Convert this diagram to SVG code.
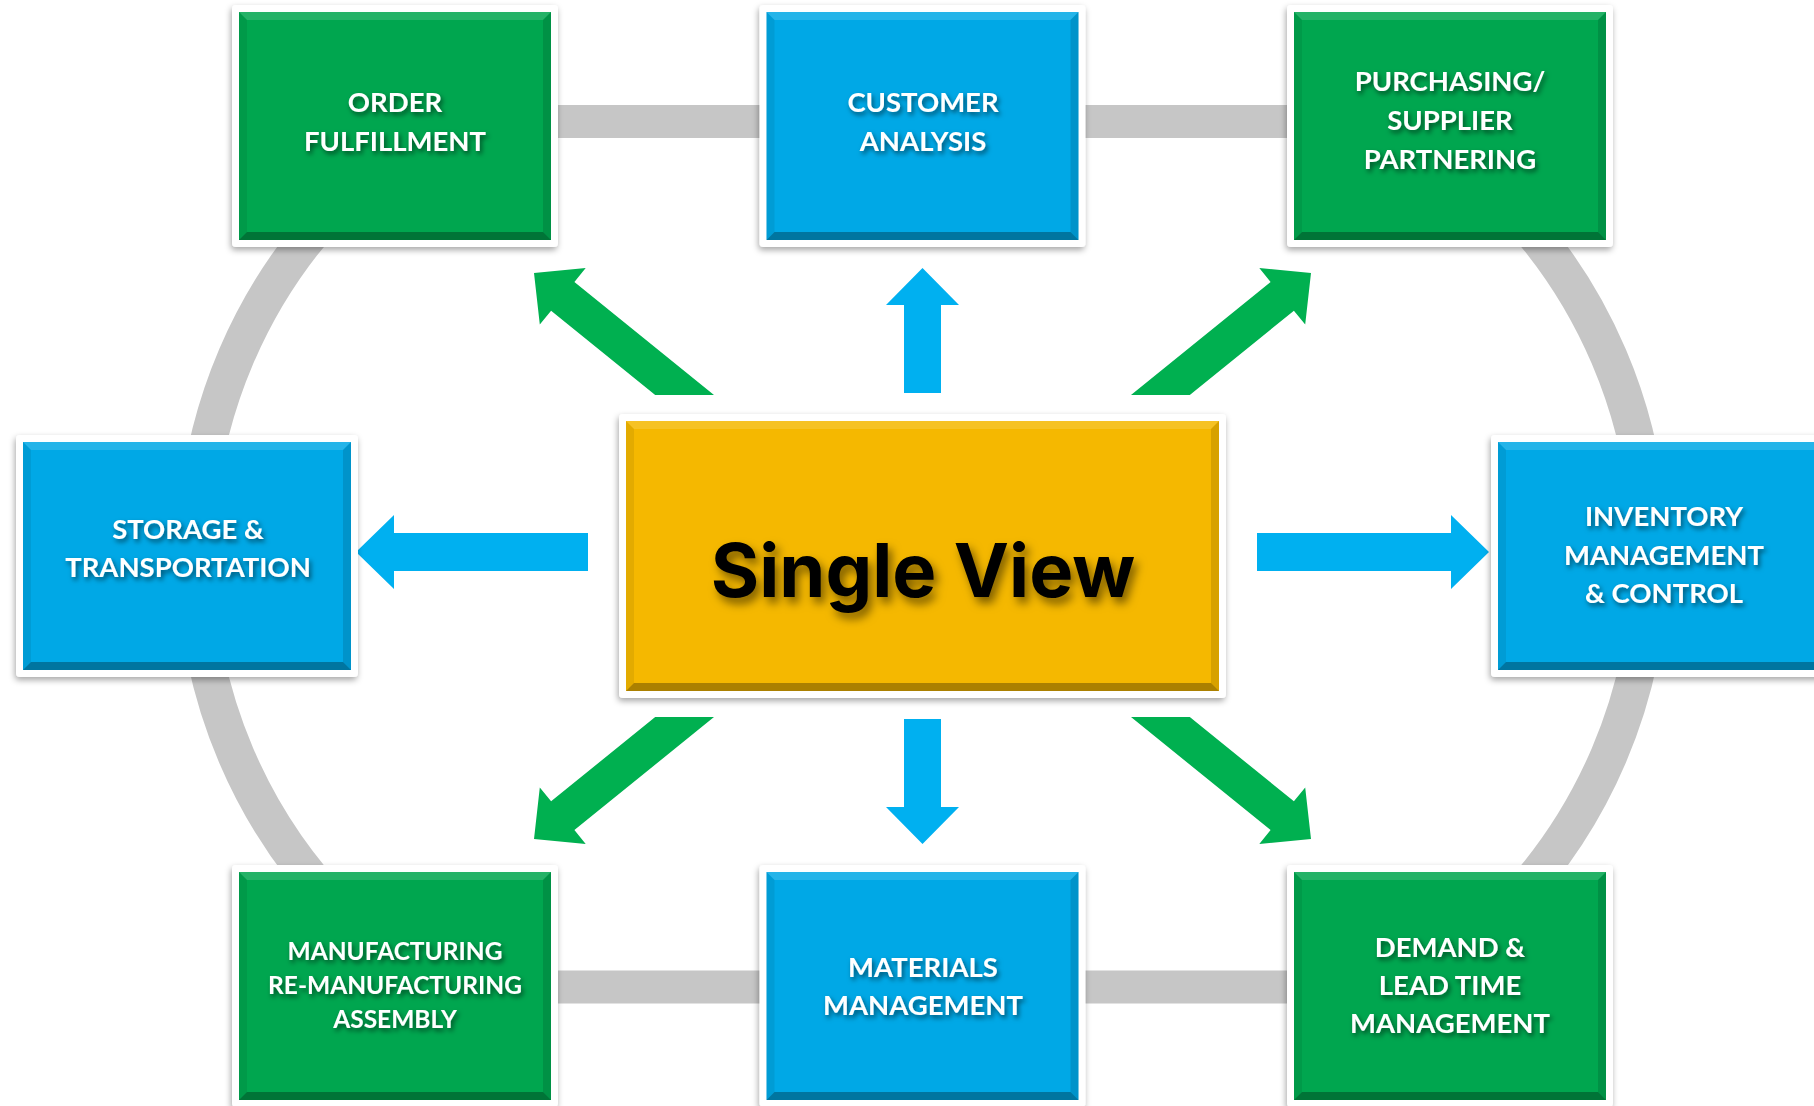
<svg xmlns="http://www.w3.org/2000/svg" xmlns:xlink="http://www.w3.org/1999/xlink" width="1814" height="1106" viewBox="0 0 1814 1106">
<defs>
<style>
.frame{fill:#fff;filter:url(#sh);}
.g{fill:#00A64F}
.b{fill:#00A8E6}
.y{fill:#F5B800}
.bt{fill:#fff;fill-opacity:.14}
.bb{fill:#000;fill-opacity:.3}
.bl{fill:#000;fill-opacity:.07}
.br{fill:#000;fill-opacity:.12}
.lbl{font-family:Lato,"Liberation Sans",sans-serif;font-weight:700;font-size:27.5px;fill:#fff;text-anchor:middle;filter:url(#tsh);}
.sm{font-size:24.5px}
.ring{fill:none;stroke:#C6C6C6}
.ga{fill:#00B050}
.ba{fill:#00B0F0}
.title{font-family:Inter,"Liberation Sans",sans-serif;font-weight:700;font-size:74px;fill:#000;text-anchor:middle;filter:url(#tsh2);}
</style>
<filter id="sh" x="-10%" y="-10%" width="120%" height="125%">
<feDropShadow dx="-1" dy="3" stdDeviation="3" flood-color="#000" flood-opacity="0.35"/>
</filter>
<filter id="tsh" x="-20%" y="-40%" width="140%" height="200%">
<feDropShadow dx="2" dy="3" stdDeviation="2.5" flood-color="#000" flood-opacity="0.55"/>
</filter>
<filter id="tsh2" x="-10%" y="-30%" width="120%" height="170%">
<feDropShadow dx="4" dy="6" stdDeviation="5" flood-color="#000" flood-opacity="0.5"/>
</filter>
<g id="bevS">
<polygon class="bt" points="7,7 319,7 311,15 15,15"/>
<polygon class="bb" points="7,235 319,235 311,227 15,227"/>
<polygon class="bl" points="7,7 15,15 15,227 7,235"/>
<polygon class="br" points="319,7 311,15 311,227 319,235"/>
</g>
<g id="bevM">
<polygon class="bt" points="7,7 335,7 327,15 15,15"/>
<polygon class="bb" points="7,235 335,235 327,227 15,227"/>
<polygon class="bl" points="7,7 15,15 15,227 7,235"/>
<polygon class="br" points="335,7 327,15 327,227 335,235"/>
</g>
<g id="bevC">
<polygon class="bt" points="7,7 600,7 592,15 15,15"/>
<polygon class="bb" points="7,277 600,277 592,269 15,269"/>
<polygon class="bl" points="7,7 15,15 15,269 7,277"/>
<polygon class="br" points="600,7 592,15 592,269 600,277"/>
</g>
</defs>
<rect width="1814" height="1106" fill="#fff"/>
<g id="connectors">
<line class="ring" x1="400" y1="121.5" x2="1445" y2="121.5" stroke-width="33"/>
<line class="ring" x1="400" y1="987" x2="1445" y2="987" stroke-width="33"/>
<path class="ring" d="M341,200 A508,508 0 0 0 341,912" stroke-width="37"/>
<path class="ring" d="M1504,200 A508,508 0 0 1 1504,912" stroke-width="37"/>
<polygon class="ga" points="534,273 585.7,267.9 574.4,281.9 714,395 655.2,395 551.1,310.7 539.8,324.6"/>
<polygon class="ga" points="1311,273 1259.3,267.9 1270.6,281.9 1131,395 1189.8,395 1293.9,310.7 1305.2,324.6"/>
<polygon class="ga" points="534,839 585.7,844.1 574.4,830.1 714,717 655.2,717 551.1,801.3 539.8,787.4"/>
<polygon class="ga" points="1311,839 1259.3,844.1 1270.6,830.1 1131,717 1189.8,717 1293.9,801.3 1305.2,787.4"/>
<polygon class="ba" points="922.5,268 959,305 941,305 941,393 904,393 904,305 886,305"/>
<polygon class="ba" points="922.5,844 959,807 941,807 941,719 904,719 904,807 886,807"/>
<polygon class="ba" points="356,552 394,515 394,533 588,533 588,571 394,571 394,589"/>
<polygon class="ba" points="1489,552 1451,515 1451,533 1257,533 1257,571 1451,571 1451,589"/>
</g>
<g id="order-fulfillment">
<rect class="frame" x="232" y="5" width="326" height="242" rx="4"/>
<rect class="g" x="239" y="12" width="312" height="228"/>
<use xlink:href="#bevS" x="232" y="5"/>
<text class="lbl" x="395" y="112">ORDER</text>
<text class="lbl" x="395" y="151">FULFILLMENT</text>
</g>
<g id="customer-analysis">
<rect class="frame" x="759.5" y="5" width="326" height="242" rx="4"/>
<rect class="b" x="766.5" y="12" width="312" height="228"/>
<use xlink:href="#bevS" x="759.5" y="5"/>
<text class="lbl" x="923" y="112">CUSTOMER</text>
<text class="lbl" x="923" y="151">ANALYSIS</text>
</g>
<g id="purchasing">
<rect class="frame" x="1287" y="5" width="326" height="242" rx="4"/>
<rect class="g" x="1294" y="12" width="312" height="228"/>
<use xlink:href="#bevS" x="1287" y="5"/>
<text class="lbl" x="1450" y="91">PURCHASING/</text>
<text class="lbl" x="1450" y="130">SUPPLIER</text>
<text class="lbl" x="1450" y="169">PARTNERING</text>
</g>
<g id="storage-transportation">
<rect class="frame" x="16" y="435" width="342" height="242" rx="4"/>
<rect class="b" x="23" y="442" width="328" height="228"/>
<use xlink:href="#bevM" x="16" y="435"/>
<text class="lbl" x="188" y="539">STORAGE &amp;</text>
<text class="lbl" x="188" y="577">TRANSPORTATION</text>
</g>
<g id="single-view">
<rect class="frame" x="619" y="414" width="607" height="284" rx="4"/>
<rect class="y" x="626" y="421" width="593" height="270"/>
<use xlink:href="#bevC" x="619" y="414"/>
<text class="title" x="923" y="597">Single View</text>
</g>
<g id="inventory">
<rect class="frame" x="1491" y="435" width="342" height="242" rx="4"/>
<rect class="b" x="1498" y="442" width="328" height="228"/>
<use xlink:href="#bevM" x="1491" y="435"/>
<text class="lbl" x="1664" y="526">INVENTORY</text>
<text class="lbl" x="1664" y="565">MANAGEMENT</text>
<text class="lbl" x="1664" y="603">&amp; CONTROL</text>
</g>
<g id="manufacturing">
<rect class="frame" x="232" y="865" width="326" height="242" rx="4"/>
<rect class="g" x="239" y="872" width="312" height="228"/>
<use xlink:href="#bevS" x="232" y="865"/>
<text class="lbl sm" x="395" y="960">MANUFACTURING</text>
<text class="lbl sm" x="395" y="994">RE-MANUFACTURING</text>
<text class="lbl sm" x="395" y="1028">ASSEMBLY</text>
</g>
<g id="materials">
<rect class="frame" x="759.5" y="865" width="326" height="242" rx="4"/>
<rect class="b" x="766.5" y="872" width="312" height="228"/>
<use xlink:href="#bevS" x="759.5" y="865"/>
<text class="lbl" x="923" y="977">MATERIALS</text>
<text class="lbl" x="923" y="1015">MANAGEMENT</text>
</g>
<g id="demand">
<rect class="frame" x="1287" y="865" width="326" height="242" rx="4"/>
<rect class="g" x="1294" y="872" width="312" height="228"/>
<use xlink:href="#bevS" x="1287" y="865"/>
<text class="lbl" x="1450" y="957">DEMAND &amp;</text>
<text class="lbl" x="1450" y="995">LEAD TIME</text>
<text class="lbl" x="1450" y="1033">MANAGEMENT</text>
</g>
</svg>
